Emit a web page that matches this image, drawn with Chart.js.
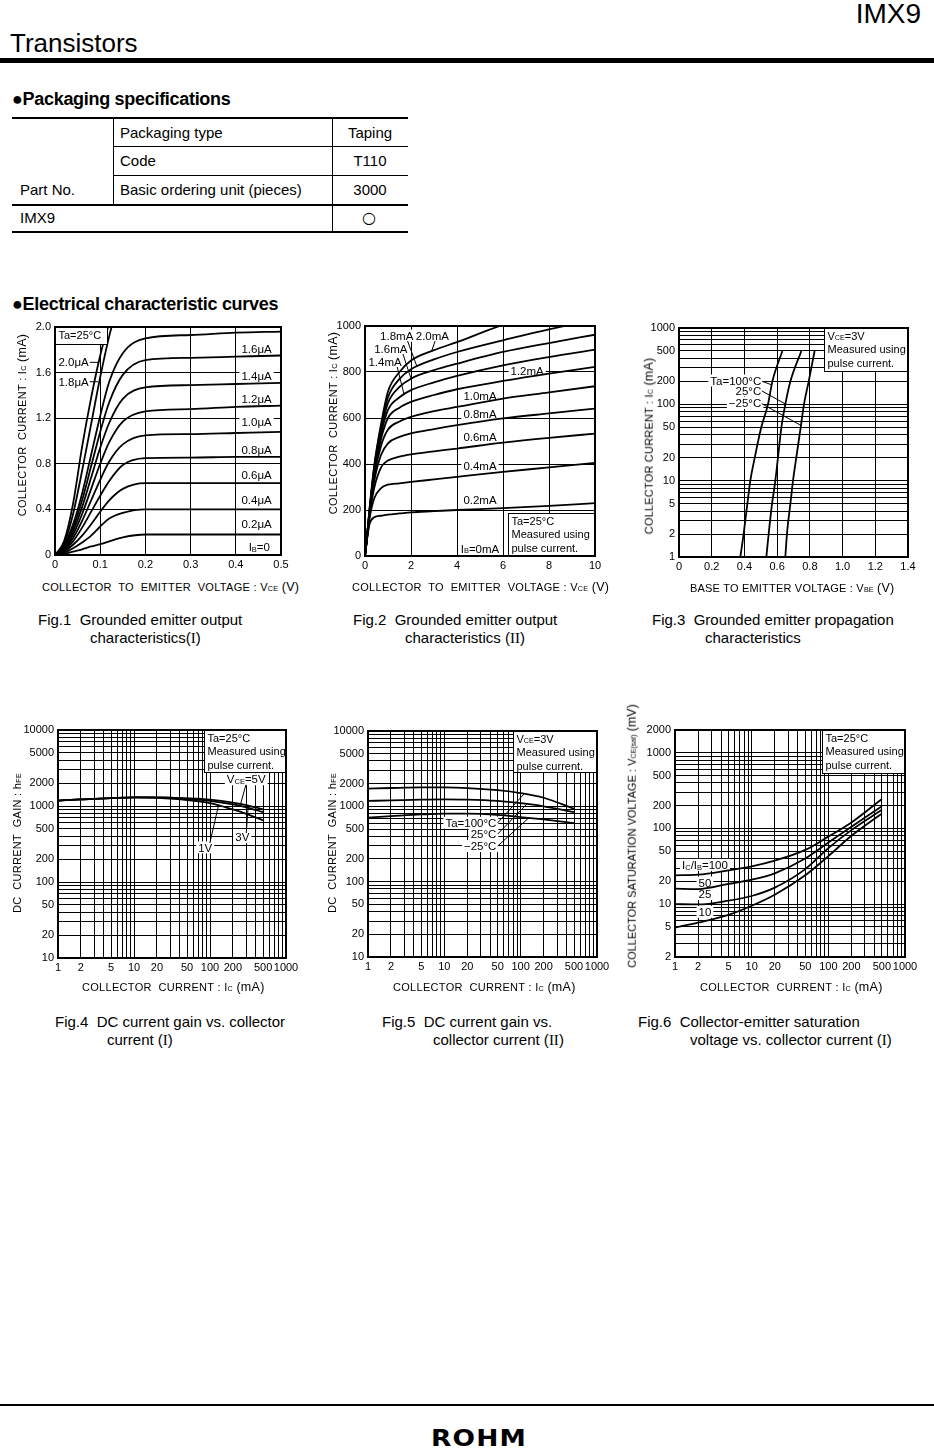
<!DOCTYPE html>
<html>
<head>
<meta charset="utf-8">
<script src="https://cdn.jsdelivr.net/npm/chart.js@4.4.1/dist/chart.umd.min.js"></script>
<style>
  body { margin: 0; width: 934px; height: 1456px; background: #fff; position: relative; overflow: hidden; }
  canvas { position: absolute; z-index: 1; }
  .t { position: absolute; white-space: pre; line-height: 1; color: #000; z-index: 2;
       font-family: "Liberation Sans", Arial, sans-serif; }
  .s { font-size: 0.65em; }
  .rm { font-family: "Liberation Serif", serif; }
  .ln { position: absolute; background: #000; z-index: 2; }
</style>
</head>
<body>
<canvas id="fig1"></canvas>
<canvas id="fig2"></canvas>
<canvas id="fig3"></canvas>
<canvas id="fig4"></canvas>
<canvas id="fig5"></canvas>
<canvas id="fig6"></canvas>
<script>
const FONT = '"Liberation Sans", Arial, sans-serif';

// Fig.1  Ic (mA) vs Vce (V), one array per base current
const fig1Vce  = [0, 0.02, 0.04, 0.06, 0.08, 0.10, 0.12, 0.15, 0.20, 0.30, 0.40, 0.50];
const fig1Ib0  = [0, 0, 0, 0, 0, 0, 0, 0, 0, 0, 0, 0];
const fig1Ib02 = [0, 0.01, 0.03, 0.05, 0.075, 0.095, 0.12, 0.155, 0.18, 0.18, 0.18, 0.18];
const fig1Ib04 = [0, 0.02, 0.06, 0.11, 0.17, 0.25, 0.32, 0.37, 0.40, 0.40, 0.40, 0.40];
const fig1Ib06 = [0, 0.03, 0.09, 0.17, 0.27, 0.38, 0.48, 0.58, 0.63, 0.63, 0.63, 0.63];
const fig1Ib08 = [0, 0.04, 0.12, 0.24, 0.38, 0.52, 0.65, 0.79, 0.85, 0.855, 0.86, 0.86];
const fig1Ib10 = [0, 0.05, 0.15, 0.30, 0.48, 0.66, 0.82, 0.97, 1.05, 1.06, 1.07, 1.08];
const fig1Ib12 = [0, 0.06, 0.18, 0.36, 0.58, 0.80, 0.99, 1.17, 1.26, 1.28, 1.30, 1.31];
const fig1Ib14 = [0, 0.07, 0.21, 0.42, 0.68, 0.94, 1.16, 1.37, 1.47, 1.49, 1.50, 1.51];
const fig1Ib16 = [0, 0.08, 0.24, 0.48, 0.78, 1.08, 1.34, 1.58, 1.71, 1.73, 1.74, 1.75];
const fig1IbTop = [0, 0.09, 0.27, 0.54, 0.88, 1.22, 1.52, 1.77, 1.90, 1.93, 1.95, 1.96];
const fig1Ib18 = [0, 0.10, 0.36, 0.74, 1.15, 1.56, 1.92, 2.35, null, null, null, null];
const fig1Ib20 = [0, 0.12, 0.45, 0.95, 1.38, 1.75, 2.04, 2.50, null, null, null, null];
const fig1XLabels = ['0', '0.1', '0.2', '0.3', '0.4', '0.5'];
const fig1YLabels = ['0', '0.4', '0.8', '1.2', '1.6', '2.0'];

// Fig.2  Ic (mA) vs Vce (V)
const fig2Vce  = [0, 0.1, 0.2, 0.4, 0.7, 1, 1.5, 2, 3, 4, 6, 8, 10];
const fig2Ib0  = [0, 0, 0, 0, 0, 0, 0, 0, 0, 0, 0, 0, 0];
const fig2Ib02 = [0, 80, 140, 168, 175, 180, 185, 190, 195, 200, 208, 218, 230];
const fig2Ib04 = [0, 85, 165, 250, 295, 310, 316, 322, 333, 344, 366, 385, 405];
const fig2Ib06 = [0, 88, 175, 295, 385, 415, 432, 442, 455, 467, 493, 514, 532];
const fig2Ib08 = [0, 90, 182, 325, 440, 490, 518, 533, 552, 569, 598, 620, 641];
const fig2Ib10 = [0, 92, 188, 345, 480, 550, 585, 605, 630, 648, 684, 711, 738];
const fig2Ib12 = [0, 94, 192, 358, 510, 600, 645, 670, 700, 725, 761, 793, 822];
const fig2Ib14 = [0, 96, 196, 368, 530, 635, 690, 721, 755, 783, 829, 865, 897];
const fig2Ib16 = [0, 98, 200, 377, 548, 665, 735, 771, 808, 836, 887, 926, 962];
const fig2Ib18 = [0, 100, 204, 385, 562, 690, 770, 812, 855, 887, 938, 985, 1030];
const fig2Ib20 = [0, 102, 208, 392, 575, 715, 800, 850, 895, 930, 1005, 1060, 1110];
const fig2XLabels = ['0', '2', '4', '6', '8', '10'];
const fig2YLabels = ['0', '200', '400', '600', '800', '1000'];

// Fig.3  Vbe (V) at each Ic (mA)
const fig3Ic      = [1, 2, 5, 10, 20, 50, 100, 200, 500];
const fig3Vbe100  = [0.375, 0.395, 0.418, 0.436, 0.463, 0.503, 0.544, 0.571, 0.632];
const fig3Vbe25   = [0.534, 0.548, 0.569, 0.589, 0.605, 0.626, 0.650, 0.681, 0.748];
const fig3VbeM25  = [0.650, 0.660, 0.681, 0.697, 0.717, 0.744, 0.764, 0.793, 0.829];
const fig3XLabels = ['0', '0.2', '0.4', '0.6', '0.8', '1.0', '1.2', '1.4'];
const fig3YLabels = ['1', '2', '5', '10', '20', '50', '100', '200', '500', '1000'];

// Fig.4  hFE vs Ic (mA)
const fig4Ic   = [1, 2, 5, 10, 20, 50, 100, 200, 300, 500];
const fig4Hfe5 = [1180, 1220, 1270, 1300, 1300, 1260, 1210, 1110, 1030, 900];
const fig4Hfe3 = [1180, 1220, 1270, 1300, 1300, 1250, 1170, 1050, 960, 830];
const fig4Hfe1 = [1180, 1220, 1270, 1300, 1280, 1200, 1090, 900, 790, 645];

// Fig.5  hFE vs Ic (mA)
const fig5Ic      = [1, 2, 5, 10, 20, 50, 100, 200, 500];
const fig5Hfe100  = [1720, 1750, 1780, 1780, 1750, 1640, 1500, 1300, 930];
const fig5Hfe25   = [1180, 1200, 1230, 1240, 1230, 1180, 1100, 1000, 840];
const fig5HfeM25  = [710, 740, 780, 800, 800, 770, 720, 670, 600];

// Fig.6  Vce(sat) (mV) vs Ic (mA)
const fig6Ic    = [1, 2, 5, 10, 20, 50, 100, 200, 500];
const fig6Vs100 = [24, 24.5, 28, 31.5, 37.5, 52, 78, 120, 245];
const fig6Vs50  = [16, 15.8, 18.5, 21, 25.5, 40, 65, 105, 197];
const fig6Vs25  = [10, 9.9, 11.1, 12.8, 16.5, 29, 55, 95, 176];
const fig6Vs10  = [4.9, 5.7, 7.2, 9.5, 13.3, 24, 43, 80, 158];

const logXLabels = ['1', '2', '5', '10', '20', '50', '100', '200', '500', '1000'];
const gainYLabels = ['10', '20', '50', '100', '200', '500', '1000', '2000', '5000', '10000'];
const satYLabels = ['2', '5', '10', '20', '50', '100', '200', '500', '1000', '2000'];

// ---------- helpers ----------
const YW = 40, XH = 18, LEFT = 48;
const NOTES = {};

function pts(xs, ys) {
  const out = [];
  xs.forEach((x, i) => { if (ys[i] != null) out.push({ x: x, y: ys[i] }); });
  return out;
}
function linTicks(labels) {
  return labels.map(l => ({ v: Number(l), l: l }));
}
function logTicks(min, max, labels) {
  const out = [];
  for (let d = 1; d <= max; d *= 10) {
    for (let m = 1; m < 10; m++) {
      const v = m * d;
      if (v >= min && v <= max) out.push({ v: v, l: labels.includes(String(v)) ? String(v) : '' });
    }
  }
  return out;
}
function axis(type, min, max, ticks, pos) {
  return {
    type: type, min: min, max: max, position: pos, bounds: 'data',
    afterBuildTicks: s => { s.ticks = ticks.map(t => ({ value: t.v, lab: t.l })); },
    ticks: {
      autoSkip: false, maxRotation: 0, minRotation: 0, padding: pos === 'bottom' ? 3 : 4,
      color: '#000', font: { family: FONT, size: 11 },
      callback: (v, i, tk) => tk[i].lab
    },
    grid: { color: '#000', lineWidth: 1, drawTicks: false },
    border: { display: false },
    afterFit: s => {
      if (pos === 'bottom') { s.height = XH; s.paddingLeft = 0; s.paddingRight = 0; }
      else { s.width = YW; s.paddingTop = 0; s.paddingBottom = 0; }
    }
  };
}

function richParts(str) {
  const parts = [], re = /_\{([^}]*)\}/g;
  let last = 0, m;
  while ((m = re.exec(str))) {
    if (m.index > last) parts.push([str.slice(last, m.index), false]);
    parts.push([m[1], true]);
    last = re.lastIndex;
  }
  if (last < str.length) parts.push([str.slice(last), false]);
  return parts;
}
function richWidth(ctx, str, size) {
  let w = 0;
  richParts(str).forEach(([t, sub]) => {
    ctx.font = (sub ? size * 0.65 : size) + 'px ' + FONT;
    w += ctx.measureText(t).width;
  });
  return w;
}
function drawRich(ctx, str, x, y, align, size) {
  const w = richWidth(ctx, str, size);
  let cx = align === 'right' ? x - w : align === 'left' ? x : x - w / 2;
  const base = y + size * 0.36;
  ctx.fillStyle = '#000';
  ctx.textAlign = 'left';
  ctx.textBaseline = 'alphabetic';
  richParts(str).forEach(([t, sub]) => {
    ctx.font = (sub ? size * 0.65 : size) + 'px ' + FONT;
    ctx.fillText(t, cx, base + (sub ? 0.5 : 0));
    cx += ctx.measureText(t).width;
  });
}

const LBL = 11.5, BOXTXT = 11;
const notesPlugin = {
  id: 'notes',
  beforeDatasetsDraw(chart) {
    const n = NOTES[chart.canvas.id];
    if (!n) return;
    const ctx = chart.ctx, xs = chart.scales.x, ys = chart.scales.y;
    ctx.save();
    ctx.fillStyle = '#fff';
    (n.labels || []).forEach(l => {
      const w = richWidth(ctx, l.t, LBL);
      const px = xs.getPixelForValue(l.x), py = ys.getPixelForValue(l.y);
      const x0 = l.align === 'right' ? px - w : px - w / 2;
      ctx.fillRect(x0 - 2, py - 6, w + 4, 12);
    });
    ctx.restore();
  },
  afterDatasetsDraw(chart) {
    const n = NOTES[chart.canvas.id];
    const ctx = chart.ctx, xs = chart.scales.x, ys = chart.scales.y, a = chart.chartArea;
    ctx.save();
    if (n) {
      ctx.strokeStyle = '#000';
      ctx.lineWidth = 1;
      (n.leaders || []).forEach(p => {
        ctx.beginPath();
        ctx.moveTo(xs.getPixelForValue(p[0]), ys.getPixelForValue(p[1]));
        ctx.lineTo(xs.getPixelForValue(p[2]), ys.getPixelForValue(p[3]));
        ctx.stroke();
      });
      (n.labels || []).forEach(l => {
        drawRich(ctx, l.t, xs.getPixelForValue(l.x), ys.getPixelForValue(l.y), l.align || 'center', LBL);
      });
      if (n.box) {
        const b = n.box;
        const x1 = Math.round(xs.getPixelForValue(b.x1)), x2 = Math.round(xs.getPixelForValue(b.x2));
        const y1 = Math.round(ys.getPixelForValue(b.y1)), y2 = Math.round(ys.getPixelForValue(b.y2));
        ctx.fillStyle = '#fff';
        ctx.fillRect(x1, y2, x2 - x1, y1 - y2);
        ctx.strokeRect(x1 + 0.5, y2 + 0.5, x2 - x1, y1 - y2);
        b.lines.forEach((t, i) => drawRich(ctx, t, x1 + 3.5, y2 + 8 + i * 13.3, 'left', BOXTXT));
      }
    }
    ctx.strokeStyle = '#000';
    ctx.lineWidth = 2;
    ctx.strokeRect(a.left, a.top, a.right - a.left, a.bottom - a.top);
    ctx.restore();
  }
};
Chart.register(notesPlugin);

function makeChart(id, plot, xAxis, yAxis, series, notes) {
  const cv = document.getElementById(id);
  const box = { x: plot.l - LEFT, y: plot.t - 10, w: plot.r - plot.l + LEFT + 30, h: plot.b - plot.t + 35 };
  cv.width = box.w; cv.height = box.h;
  cv.style.left = box.x + 'px'; cv.style.top = box.y + 'px';
  cv.style.width = box.w + 'px'; cv.style.height = box.h + 'px';
  NOTES[id] = notes;
  return new Chart(cv, {
    type: 'line',
    data: {
      datasets: series.map(s => ({
        data: s, borderColor: '#000', borderWidth: 1.8, pointRadius: 0,
        fill: false, cubicInterpolationMode: 'monotone'
      }))
    },
    options: {
      responsive: false, animation: false, devicePixelRatio: 1, events: [],
      layout: { padding: { left: LEFT - YW, top: 10, right: 30, bottom: 35 - 10 - XH } },
      plugins: { legend: { display: false }, tooltip: { enabled: false } },
      scales: { x: xAxis, y: yAxis }
    }
  });
}

// ---------- charts ----------
makeChart('fig1', { l: 55, t: 327, r: 281, b: 555 },
  axis('linear', 0, 0.5, linTicks(fig1XLabels), 'bottom'),
  axis('linear', 0, 2.0, linTicks(fig1YLabels), 'left'),
  [fig1Ib0, fig1Ib02, fig1Ib04, fig1Ib06, fig1Ib08, fig1Ib10, fig1Ib12, fig1Ib14, fig1Ib16, fig1IbTop, fig1Ib18, fig1Ib20]
    .map(ys => pts(fig1Vce, ys)),
  {
    labels: [
      { t: '1.6μA', x: 0.446, y: 1.81 }, { t: '1.4μA', x: 0.446, y: 1.575 },
      { t: '1.2μA', x: 0.446, y: 1.37 }, { t: '1.0μA', x: 0.446, y: 1.17 },
      { t: '0.8μA', x: 0.446, y: 0.92 }, { t: '0.6μA', x: 0.446, y: 0.70 },
      { t: '0.4μA', x: 0.446, y: 0.48 }, { t: '0.2μA', x: 0.446, y: 0.27 },
      { t: 'I_{B}=0', x: 0.452, y: 0.07 },
      { t: '2.0μA', x: 0.041, y: 1.69 }, { t: '1.8μA', x: 0.041, y: 1.52 }
    ],
    leaders: [[0.077, 1.69, 0.098, 1.69], [0.077, 1.52, 0.095, 1.52]],
    box: { x1: 0, x2: 0.115, y1: 1.85, y2: 2.0, lines: ['Ta=25°C'] }
  });

makeChart('fig2', { l: 365, t: 326, r: 595, b: 556 },
  axis('linear', 0, 10, linTicks(fig2XLabels), 'bottom'),
  axis('linear', 0, 1000, linTicks(fig2YLabels), 'left'),
  [fig2Ib0, fig2Ib02, fig2Ib04, fig2Ib06, fig2Ib08, fig2Ib10, fig2Ib12, fig2Ib14, fig2Ib16, fig2Ib18, fig2Ib20]
    .map(ys => pts(fig2Vce, ys)),
  {
    labels: [
      { t: '1.2mA', x: 7.05, y: 803 }, { t: '1.0mA', x: 5.0, y: 696 },
      { t: '0.8mA', x: 5.0, y: 617 }, { t: '0.6mA', x: 5.0, y: 518 },
      { t: '0.4mA', x: 5.0, y: 392 }, { t: '0.2mA', x: 5.0, y: 246 },
      { t: 'I_{B}=0mA', x: 5.0, y: 33 },
      { t: '1.8mA', x: 1.38, y: 958 }, { t: '2.0mA', x: 2.93, y: 958 },
      { t: '1.6mA', x: 1.12, y: 900 }, { t: '1.4mA', x: 0.87, y: 843 }
    ],
    leaders: [[1.85, 935, 2.25, 826], [1.65, 878, 2.0, 771], [1.4, 822, 1.7, 702], [3.05, 935, 2.9, 892]],
    box: { x1: 6.23, x2: 10, y1: 0, y2: 185, lines: ['Ta=25°C', 'Measured using', 'pulse current.'] }
  });

makeChart('fig3', { l: 679, t: 328, r: 908, b: 557 },
  axis('linear', 0, 1.4, linTicks(fig3XLabels), 'bottom'),
  axis('logarithmic', 1, 1000, logTicks(1, 1000, fig3YLabels), 'left'),
  [fig3Vbe100, fig3Vbe25, fig3VbeM25].map(xs => pts(xs, fig3Ic)),
  {
    labels: [
      { t: 'Ta=100°C', x: 0.503, y: 205, align: 'right' },
      { t: '25°C', x: 0.503, y: 152, align: 'right' },
      { t: '−25°C', x: 0.503, y: 104, align: 'right' }
    ],
    leaders: [[0.508, 200, 0.567, 180], [0.506, 150, 0.655, 100], [0.506, 102, 0.745, 53]],
    box: { x1: 0.884, x2: 1.4, y1: 275, y2: 1000, lines: ['V_{CE}=3V', 'Measured using', 'pulse current.'] }
  });

makeChart('fig4', { l: 58, t: 730, r: 286, b: 958 },
  axis('logarithmic', 1, 1000, logTicks(1, 1000, logXLabels), 'bottom'),
  axis('logarithmic', 10, 10000, logTicks(10, 10000, gainYLabels), 'left'),
  [fig4Hfe5, fig4Hfe3, fig4Hfe1].map(ys => pts(fig4Ic, ys)),
  {
    labels: [
      { t: 'V_{CE}=5V', x: 300, y: 2250 }, { t: '3V', x: 266, y: 389 }, { t: '1V', x: 86.5, y: 285 }
    ],
    leaders: [[297, 1900, 253, 1068], [300, 440, 317, 950], [99.6, 326, 130, 1040]],
    box: { x1: 83, x2: 1000, y1: 2760, y2: 10000, lines: ['Ta=25°C', 'Measured using', 'pulse current.'] }
  });

makeChart('fig5', { l: 368, t: 731, r: 597, b: 957 },
  axis('logarithmic', 1, 1000, logTicks(1, 1000, logXLabels), 'bottom'),
  axis('logarithmic', 10, 10000, logTicks(10, 10000, gainYLabels), 'left'),
  [fig5Hfe100, fig5Hfe25, fig5HfeM25].map(ys => pts(fig5Ic, ys)),
  {
    labels: [
      { t: 'Ta=100°C', x: 48, y: 605, align: 'right' },
      { t: '25°C', x: 48, y: 428, align: 'right' },
      { t: '−25°C', x: 48, y: 297, align: 'right' }
    ],
    leaders: [[50, 605, 112, 1480], [50, 428, 121, 1080], [50, 297, 128, 705]],
    box: { x1: 79, x2: 1000, y1: 2864, y2: 10000, lines: ['V_{CE}=3V', 'Measured using', 'pulse current.'] }
  });

makeChart('fig6', { l: 675, t: 730, r: 905, b: 957 },
  axis('logarithmic', 1, 1000, logTicks(1, 1000, logXLabels), 'bottom'),
  axis('logarithmic', 2, 2000, logTicks(2, 2000, satYLabels), 'left'),
  [fig6Vs100, fig6Vs50, fig6Vs25, fig6Vs10].map(ys => pts(fig6Ic, ys)),
  {
    labels: [
      { t: 'I_{C}/I_{B}=100', x: 2.46, y: 33 }, { t: '50', x: 2.46, y: 19.3 },
      { t: '25', x: 2.46, y: 13.6 }, { t: '10', x: 2.46, y: 7.9 }
    ],
    leaders: [],
    box: { x1: 82, x2: 1000, y1: 547, y2: 2000, lines: ['Ta=25°C', 'Measured using', 'pulse current.'] }
  });

// ---------- page text ----------
function T(html, x, base, size, opt) {
  opt = opt || {};
  const d = document.createElement('div');
  d.className = 't';
  d.innerHTML = html;
  d.style.fontSize = size + 'px';
  d.style.left = x + 'px';
  d.style.top = (base - 0.8465 * size) + 'px';
  if (opt.bold) d.style.fontWeight = 'bold';
  if (opt.align === 'right') d.style.transform = 'translateX(-100%)';
  if (opt.align === 'center') d.style.transform = 'translateX(-50%)';
  if (opt.ls) d.style.letterSpacing = opt.ls + 'px';
  if (opt.font) d.style.fontFamily = opt.font;
  document.body.appendChild(d);
  return d;
}
function R(html, cx, cy, size, ls) {
  const d = document.createElement('div');
  d.className = 't';
  d.innerHTML = html;
  d.style.fontSize = size + 'px';
  d.style.left = cx + 'px';
  d.style.top = cy + 'px';
  if (ls) d.style.letterSpacing = ls + 'px';
  d.style.transform = 'translate(-50%,-50%) rotate(-90deg)';
  document.body.appendChild(d);
}
function L(x, y, w, h) {
  const d = document.createElement('div');
  d.className = 'ln';
  d.style.left = x + 'px'; d.style.top = y + 'px';
  d.style.width = w + 'px'; d.style.height = h + 'px';
  document.body.appendChild(d);
}

T('IMX9', 921, 24, 28, { align: 'right' });
T('Transistors', 10, 52, 26);
L(0, 58, 934, 5);

T('●Packaging specifications', 12, 105, 18, { bold: true, ls: -0.3 });
L(12, 117, 396, 2); L(12, 204, 396, 2); L(12, 231, 396, 2);
L(113, 146, 295, 1); L(113, 175, 295, 1);
L(113, 118, 1, 87); L(332, 118, 1, 114);
T('Packaging type', 120, 138, 15);
T('Taping', 370, 138, 15, { align: 'center' });
T('Code', 120, 166, 15);
T('T110', 370, 166, 15, { align: 'center' });
T('Part No.', 20, 195, 15);
T('Basic ordering unit (pieces)', 120, 195, 15);
T('3000', 370, 195, 15, { align: 'center' });
T('IMX9', 20, 223, 15);
T('○', 369, 224, 16, { align: 'center', font: '"DejaVu Sans", sans-serif' });

T('●Electrical characteristic curves', 12, 310, 18, { bold: true, ls: -0.3 });

// axis titles
const SUB = t => '<span class="s">' + t + '</span>';
T('COLLECTOR  TO  EMITTER  VOLTAGE : V' + SUB('CE') + ' <span style="font-size:12.5px">(V)</span>', 42, 590, 11, { ls: 0.3 });
T('COLLECTOR  TO  EMITTER  VOLTAGE : V' + SUB('CE') + ' <span style="font-size:12.5px">(V)</span>', 352, 590, 11, { ls: 0.3 });
T('BASE TO EMITTER VOLTAGE : V' + SUB('BE') + ' <span style="font-size:12.5px">(V)</span>', 690, 591, 11, { ls: 0.2 });
T('COLLECTOR  CURRENT : I' + SUB('C') + ' <span style="font-size:12.5px">(mA)</span>', 82, 990, 11, { ls: 0.3 });
T('COLLECTOR  CURRENT : I' + SUB('C') + ' <span style="font-size:12.5px">(mA)</span>', 393, 990, 11, { ls: 0.3 });
T('COLLECTOR  CURRENT : I' + SUB('C') + ' <span style="font-size:12.5px">(mA)</span>', 700, 990, 11, { ls: 0.3 });

R('COLLECTOR  CURRENT : I' + SUB('C') + ' <span style="font-size:12.5px">(mA)</span>', 22, 425, 11, 0.3);
R('COLLECTOR  CURRENT : I' + SUB('C') + ' <span style="font-size:12.5px">(mA)</span>', 333, 423, 11, 0.3);
R('COLLECTOR CURRENT : I' + SUB('C') + ' <span style="font-size:12.5px">(mA)</span>', 649, 446, 11, 0.2);
R('DC  CURRENT  GAIN : h' + SUB('FE'), 18, 843, 11, 0.3);
R('DC  CURRENT  GAIN : h' + SUB('FE'), 333, 843, 11, 0.3);
R('COLLECTOR SATURATION VOLTAGE : V' + SUB('CE(sat)') + ' <span style="font-size:12.5px">(mV)</span>', 632, 836, 11, 0);

// captions
const CAP = 15;
T('Fig.1  Grounded emitter output', 38, 625, CAP);
T('characteristics(<span class="rm">I</span>)', 90, 643, CAP);
T('Fig.2  Grounded emitter output', 353, 625, CAP);
T('characteristics (<span class="rm">II</span>)', 405, 643, CAP);
T('Fig.3  Grounded emitter propagation', 652, 625, CAP);
T('characteristics', 705, 643, CAP);
T('Fig.4  DC current gain vs. collector', 55, 1027, CAP);
T('current (<span class="rm">I</span>)', 107, 1045, CAP);
T('Fig.5  DC current gain vs.', 382, 1027, CAP);
T('collector current (<span class="rm">II</span>)', 433, 1045, CAP);
T('Fig.6  Collector-emitter saturation', 638, 1027, CAP);
T('voltage vs. collector current (<span class="rm">I</span>)', 690, 1045, CAP);

// footer
L(0, 1404, 934, 2);
const logo = T('ROHM', 431, 1446, 23, { bold: true, font: '"DejaVu Sans", sans-serif', ls: 1 });
logo.style.transformOrigin = '0 0';
logo.style.transform = 'scaleX(1.15)';
</script>
</body>
</html>
